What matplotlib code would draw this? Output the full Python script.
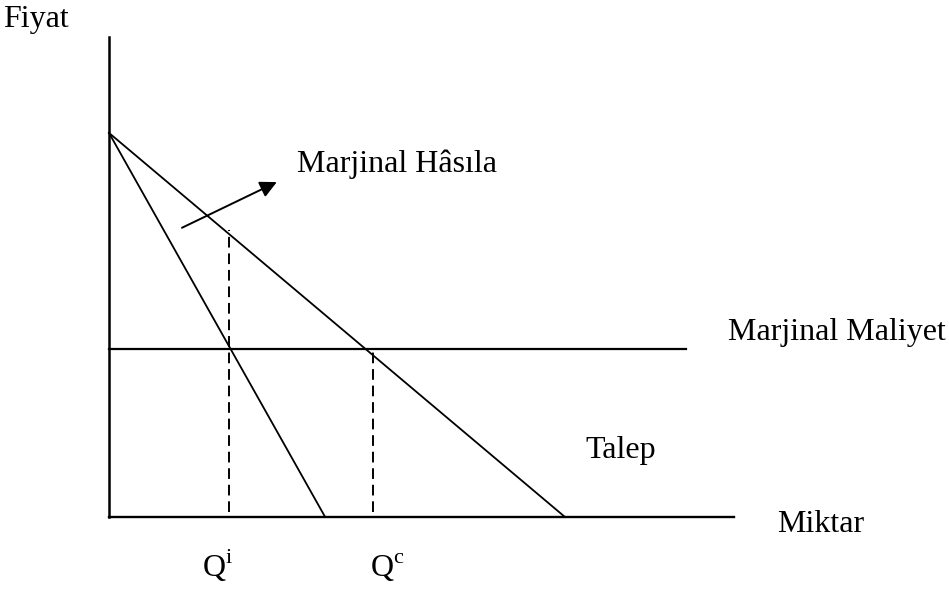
import matplotlib
matplotlib.use("Agg")
import matplotlib.pyplot as plt
import numpy as np

plt.rcParams['font.family'] = ['Liberation Serif', 'DejaVu Serif']
plt.rcParams['mathtext.fontset'] = 'custom'
plt.rcParams['mathtext.rm'] = 'Liberation Serif'

# monopol vs rekabet: talep, marjinal hasila, marjinal maliyet
p_max = 10.0          # talep ve MH'nin fiyat eksenini kestigi nokta
q_talep = 10.0        # talebin miktar eksenini kestigi nokta
q_mh = 4.74           # marjinal hasilanin miktar eksenini kestigi nokta
mc = 4.38             # marjinal maliyet
q_i = 2.63            # Q^i
q_c = 5.79            # Q^c
y_top = 12.5
x_end = 13.7
mc_end = 12.65
dash_bottom = 0.13
dash_top = 7.47

fig = plt.figure(figsize=(9.49, 5.95), dpi=100)
ax = fig.add_axes([0, 0, 1, 1])
ax.set_xlim(-2.39, 18.42)
ax.set_ylim(-2.03, 13.46)
ax.axis('off')

fs = 23
lw = 1.3

# eksenler
ax.plot([0, 0], [0, y_top], color='black', lw=1.8)
ax.plot([0, x_end], [0, 0], color='black', lw=1.7)

# talep ve marjinal hasila
ax.plot([0, q_talep], [p_max, 0], color='black', lw=lw)
ax.plot([0, q_mh], [p_max, 0], color='black', lw=lw)

# marjinal maliyet
ax.plot([0, mc_end], [mc, mc], color='black', lw=1.6)

# kesikli cizgiler
ax.plot([q_i, q_i], [dash_bottom, dash_top], color='black', lw=1.4, ls=(0, (5.5, 3)))
ax.plot([q_c, q_c], [dash_bottom, mc], color='black', lw=1.4, ls=(0, (5.5, 3)))

# ok
ax.annotate('', xy=(3.68, 8.72), xytext=(1.6, 7.53),
            arrowprops=dict(arrowstyle='-|>', color='black', lw=1.4, mutation_scale=25,
                            shrinkA=0, shrinkB=0))

# yazilar
ax.text(-2.32, 12.76, 'Fiyat', fontsize=fs, va='baseline', ha='left')
ax.text(4.12, 8.98, 'Marjinal Hâsıla', fontsize=fs, va='baseline', ha='left')
ax.text(13.57, 4.61, 'Marjinal Maliyet', fontsize=fs, va='baseline', ha='left')
ax.text(10.44, 1.54, 'Talep', fontsize=fs, va='baseline', ha='left')
ax.text(14.65, -0.39, 'Miktar', fontsize=fs, va='baseline', ha='left')
ax.text(2.04, -1.56, r'$\mathrm{Q}^{\mathrm{i}}$', fontsize=fs, va='baseline', ha='left')
ax.text(5.72, -1.56, r'$\mathrm{Q}^{\mathrm{c}}$', fontsize=fs, va='baseline', ha='left')

fig.savefig('out.png', dpi=100)
